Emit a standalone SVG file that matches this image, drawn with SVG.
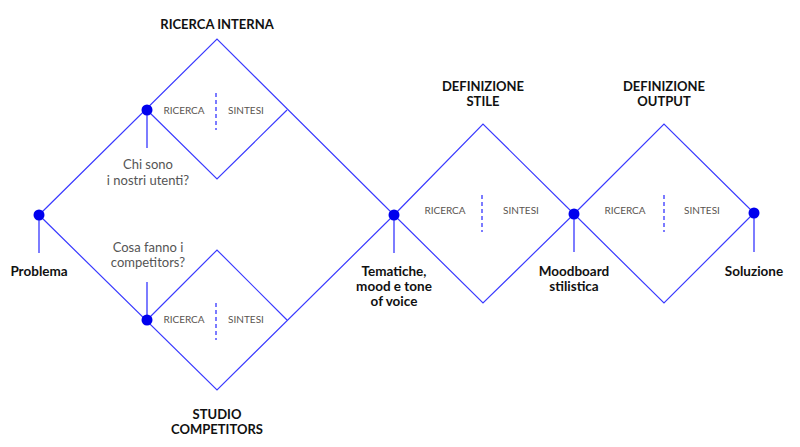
<svg xmlns="http://www.w3.org/2000/svg" width="800" height="447" viewBox="0 0 800 447">
<style>
.ln{fill:none;stroke:#3a3aff;stroke-width:1.2}
.stem{stroke:#5c5cff;stroke-width:1.6}
.dash{stroke:#5050ff;stroke-width:1.5;stroke-dasharray:4 3}
.dot{fill:#0000ee}
.t{font-family:Lato,"Open Sans",sans-serif;text-anchor:middle}
.title{font-size:13px;font-weight:bold;fill:#111}
.lbl{font-size:13.5px;font-weight:bold;fill:#111}
.phase{font-size:10px;fill:#5a5450}
.q{font-size:13px;fill:#555}
</style>
<rect width="800" height="447" fill="#fff"/>
<g id="connectors">
<polyline class="ln" points="39,215 217,39 394,215 217,390 39,215"/>
<polyline class="ln" points="147,110 217,179 287,110"/>
<polyline class="ln" points="147,320 217,250 287,320"/>
<polygon class="ln" points="394,215 483,124 574,214 483,303"/>
<polygon class="ln" points="574,214 664,124 754,213 664,303"/>
<line class="stem" x1="39" y1="215" x2="39" y2="253"/>
<line class="stem" x1="147" y1="110" x2="147" y2="148"/>
<line class="stem" x1="147" y1="320" x2="147" y2="282"/>
<line class="stem" x1="394" y1="215" x2="394" y2="253"/>
<line class="stem" x1="574" y1="214" x2="574" y2="252"/>
<line class="stem" x1="754" y1="213" x2="754" y2="252"/>
<line class="dash" x1="216" y1="93" x2="216" y2="130"/>
<line class="dash" x1="216" y1="303" x2="216" y2="340"/>
<line class="dash" x1="482" y1="195" x2="482" y2="232"/>
<line class="dash" x1="664" y1="195" x2="664" y2="232"/>
</g>
<g id="ricerca-interna">
<text class="t title" x="217" y="29">RICERCA INTERNA</text>
<text class="t phase" x="184" y="114">RICERCA</text>
<text class="t phase" x="246" y="114">SINTESI</text>
</g>
<g id="studio-competitors">
<text class="t title" x="217" y="419">STUDIO</text>
<text class="t title" x="217" y="434">COMPETITORS</text>
<text class="t phase" x="184" y="323">RICERCA</text>
<text class="t phase" x="246" y="323">SINTESI</text>
</g>
<g id="definizione-stile">
<text class="t title" x="483" y="91">DEFINIZIONE</text>
<text class="t title" x="483" y="106">STILE</text>
<text class="t phase" x="445" y="214">RICERCA</text>
<text class="t phase" x="521" y="214">SINTESI</text>
</g>
<g id="definizione-output">
<text class="t title" x="664" y="91">DEFINIZIONE</text>
<text class="t title" x="664" y="106">OUTPUT</text>
<text class="t phase" x="625" y="214">RICERCA</text>
<text class="t phase" x="702" y="214">SINTESI</text>
</g>
<g id="problema">
<circle class="dot" cx="39" cy="215" r="5.5"/>
<text class="t lbl" x="39" y="276">Problema</text>
</g>
<g id="chi-sono">
<circle class="dot" cx="147" cy="110" r="5.5"/>
<text class="t q" x="148" y="169">Chi sono</text>
<text class="t q" x="148" y="185">i nostri utenti?</text>
</g>
<g id="cosa-fanno">
<circle class="dot" cx="147" cy="320" r="5.5"/>
<text class="t q" x="148" y="252">Cosa fanno i</text>
<text class="t q" x="148" y="267">competitors?</text>
</g>
<g id="tematiche">
<circle class="dot" cx="394" cy="215" r="5.5"/>
<text class="t lbl" x="394" y="276">Tematiche,</text>
<text class="t lbl" x="394" y="291">mood e tone</text>
<text class="t lbl" x="394" y="306">of voice</text>
</g>
<g id="moodboard">
<circle class="dot" cx="574" cy="214" r="5.5"/>
<text class="t lbl" x="574" y="276">Moodboard</text>
<text class="t lbl" x="574" y="291">stilistica</text>
</g>
<g id="soluzione">
<circle class="dot" cx="754" cy="213" r="5.5"/>
<text class="t lbl" x="754" y="276">Soluzione</text>
</g>
</svg>
